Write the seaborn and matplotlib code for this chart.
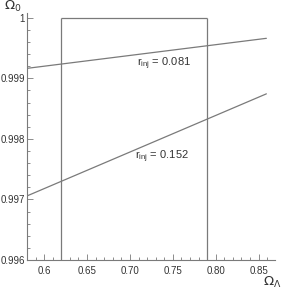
import matplotlib
matplotlib.use("Agg")
import matplotlib.pyplot as plt
import pandas
import seaborn
from matplotlib.ticker import MultipleLocator

# values
omega_lambda = [0.58, 0.859]
omega0_r081 = [0.999165, 0.999661]
omega0_r152 = [0.997058, 0.998744]
band_lambda = [0.62, 0.79]
band_top = 1.0
x_ticks = [0.60, 0.65, 0.70, 0.75, 0.80, 0.85]
x_labels = ["0.6", "0.65", "0.70", "0.75", "0.80", "0.85"]
y_ticks = [0.996, 0.997, 0.998, 0.999, 1.0]
y_labels = ["0.996", "0.997", "0.998", "0.999", "1"]

data = pandas.DataFrame({
    "lam": omega_lambda * 2,
    "om": omega0_r081 + omega0_r152,
    "r": ["0.081"] * 2 + ["0.152"] * 2,
})

seaborn.set_theme(style="ticks")
plt.rcParams["font.family"] = ["Liberation Sans", "DejaVu Sans"]

gray = "#7a7a7a"
txt = "#333333"
fig = plt.figure(figsize=(2.87, 2.91), dpi=100)
ax = fig.add_axes([0.094, 0.1065, 0.864, 0.849])

seaborn.lineplot(data=data, x="lam", y="om", units="r", estimator=None,
                 color=gray, lw=0.9, ax=ax, legend=False)
ax.vlines(band_lambda, 0.996, band_top, color=gray, lw=0.9)
ax.hlines(band_top, band_lambda[0], band_lambda[1], color=gray, lw=0.9)

ax.set_xlim(0.58, 0.869)
ax.set_ylim(0.996, 1.00008)
ax.set_xticks(x_ticks, x_labels)
ax.set_yticks(y_ticks, y_labels)
ax.xaxis.set_minor_locator(MultipleLocator(0.01))
ax.yaxis.set_minor_locator(MultipleLocator(0.0002))
ax.tick_params(which="both", direction="in", color=gray, labelsize=7, labelcolor=txt, width=0.6)
ax.tick_params(which="major", length=4)
ax.tick_params(which="minor", length=2)
ax.tick_params(axis="x", pad=4)
ax.tick_params(axis="y", pad=1.5)
for s in ["top", "right"]:
    ax.spines[s].set_visible(False)
for s in ["left", "bottom"]:
    ax.spines[s].set_color(gray)
    ax.spines[s].set_linewidth(0.8)
ax.set_xlabel("")
ax.set_ylabel("")

ax.text(0.7085, 0.999207, r"$\mathregular{r_{inj}}$ = 0.081", fontsize=8, color=txt)
ax.text(0.706, 0.99767, r"$\mathregular{r_{inj}}$ = 0.152", fontsize=8, color=txt)
fig.text(0.045, 0.978, r"$\Omega_0$", fontsize=9.5, color=txt, ha="center", va="center", family="DejaVu Serif")
fig.text(0.95, 0.03, r"$\Omega_\Lambda$", fontsize=9.5, color=txt, ha="center", va="center", family="DejaVu Serif")

fig.savefig("out.png", dpi=100)
